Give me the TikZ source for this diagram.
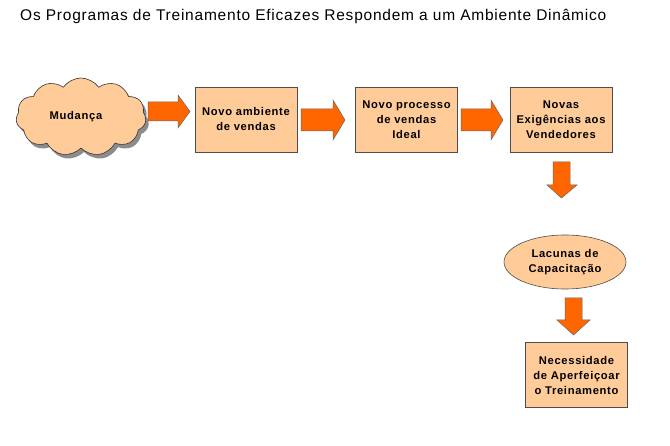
\documentclass[tikz,border=0pt]{standalone}
\usepackage{fontspec}
\setmainfont{Liberation Sans}
\newfontfamily\titlefont[LetterSpace=5]{Liberation Sans}
\newfontfamily\boxfont[LetterSpace=6]{Liberation Sans}
\usetikzlibrary{shapes.symbols,shapes.geometric,shadows}
\definecolor{peach}{HTML}{FFCC99}
\definecolor{orng}{HTML}{FF6600}
\begin{document}
\begin{tikzpicture}[x=1pt,y=-1pt,
  boxtext/.style={align=center,font=\boxfont\bfseries\fontsize{11.2}{15}\selectfont},
  stepbox/.style={boxtext,draw=black!70,fill=peach,line width=0.6pt,minimum width=102pt,minimum height=65pt,inner sep=1pt},
  blockarrow/.style={fill=orng,draw=black!60,line width=0.5pt,line join=miter}]
\useasboundingbox (0,0) rectangle (670,446);
\node[anchor=base west,font=\titlefont\fontsize{15.5}{17}\selectfont,inner sep=0pt] (title) at (20,21) {Os Programas de Treinamento Eficazes Respondem a um Ambiente Dinâmico};
\node[cloud,cloud puffs=11,cloud puff arc=110,aspect=1.7,draw=black!80,fill=peach,line width=0.6pt,minimum width=130pt,minimum height=78pt,drop shadow={shadow xshift=3pt,shadow yshift=-4pt,fill=black!45,opacity=1}] (c) at (81,117) {};
\node[boxtext] (ctext) at (76,117) {Mudança};
\node[stepbox] (b1) at (246,119.5) {Novo ambiente\\de vendas};
\node[stepbox] (b2) at (406.5,119.5) {Novo processo\\de vendas\\Ideal};
\node[stepbox] (b3) at (561,119.5) {Novas\\Exigências aos\\Vendedores};
\node[ellipse,draw=black!70,fill=peach,line width=0.6pt,minimum width=122pt,minimum height=54pt,boxtext] (e) at (565,262) {Lacunas de\\Capacitação};
\node[stepbox] (b4) at (576.5,375) {Necessidade\\de Aperfeiçoar\\o Treinamento};
% block arrows
\draw[blockarrow] (148,102) -- (178,102) -- (178,95) -- (190,111.5) -- (178,128) -- (178,121) -- (148,121) -- cycle;
\draw[blockarrow] (301,109) -- (333,109) -- (333,100) -- (345,120) -- (333,140) -- (333,131) -- (301,131) -- cycle;
\draw[blockarrow] (461,109) -- (491,109) -- (491,100) -- (503,120) -- (491,140) -- (491,131) -- (461,131) -- cycle;
\draw[blockarrow] (553,162) -- (570,162) -- (570,185) -- (577,185) -- (561.5,198) -- (547,185) -- (553,185) -- cycle;
\draw[blockarrow] (565,298) -- (582,298) -- (582,320) -- (590,320) -- (573.5,335) -- (557,320) -- (565,320) -- cycle;
\end{tikzpicture}
\end{document}
